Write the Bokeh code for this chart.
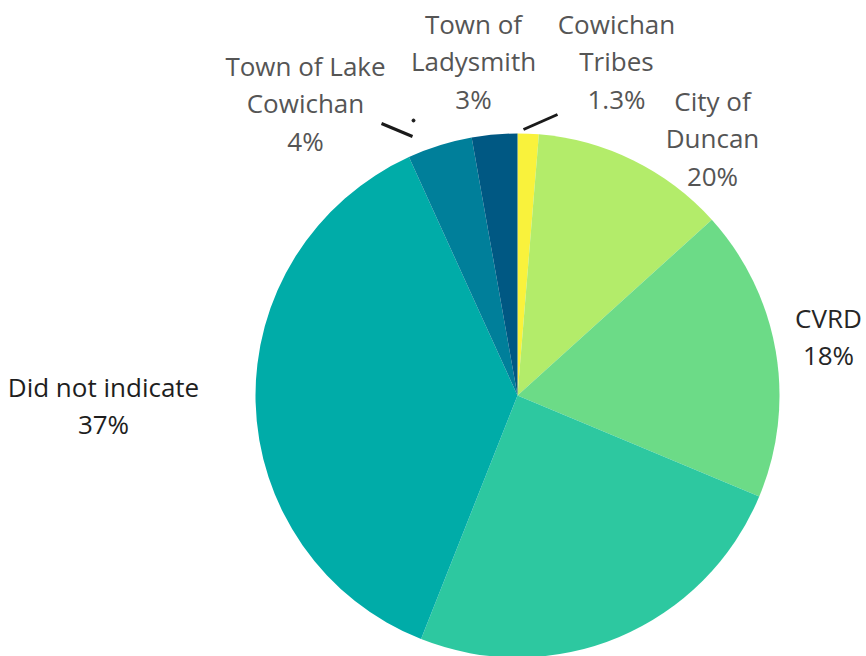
import math
from bokeh.plotting import figure
from bokeh.models import Range1d, ColumnDataSource
from bokeh.core.properties import value
from bokeh.embed import file_html
from bokeh.resources import INLINE

# ---- data (clockwise from 12 o'clock) ----
categories = ["Cowichan Tribes", "City of Duncan", "CVRD", "Municipality of North Cowichan",
              "Did not indicate", "Town of Lake Cowichan", "Town of Ladysmith"]
shares = [1.3, 12.0, 18.0, 24.7, 37.2, 4.0, 2.8]
label_texts = ["Cowichan\nTribes\n1.3%", "City of\nDuncan\n20%", "CVRD\n18%", "",
               "Did not indicate\n37%", "Town of Lake\nCowichan\n4%", "Town of\nLadysmith\n3%"]
colors = ["#f9f23c", "#b3ec6a", "#6cdb87", "#2dc8a0", "#00aca8", "#007f9a", "#005883"]

# ---- layout (screen pixels; y measured from top of window) ----
W, H = 866, 656
CX, CY, R = 517, 395, 262
label_pos = {  # centre x, first line y
    "Cowichan Tribes": (616, 23),
    "City of Duncan": (712, 100),
    "CVRD": (828, 317),
    "Did not indicate": (103, 386),
    "Town of Lake Cowichan": (305, 65),
    "Town of Ladysmith": (473, 23),
}
label_color = {"CVRD": "#262626", "Did not indicate": "#1e1e1e"}
LINE_STEP = 37.5
leaders = [((523, 129), (557, 114)), ((381, 123), (412, 136))]
dots = [(413, 120)]

def Y(sy):
    return H - sy

total = sum(shares)
starts, ends = [], []
cum = 0.0
for s in shares:
    a0 = math.pi / 2 - 2 * math.pi * cum / total
    cum += s
    a1 = math.pi / 2 - 2 * math.pi * cum / total
    starts.append(a1)
    ends.append(a0)

p = figure(width=W, height=H, x_range=Range1d(0, W), y_range=Range1d(0, H),
           output_backend="svg", toolbar_location=None, min_border=0)
p.axis.visible = False
p.grid.visible = False
p.outline_line_color = None
p.background_fill_color = "white"
p.border_fill_color = "white"

src = ColumnDataSource(dict(x=[CX] * len(shares), y=[Y(CY)] * len(shares),
                            start=starts, end=ends, color=colors, cat=categories))
p.wedge(x="x", y="y", radius=R, start_angle="start", end_angle="end",
        fill_color="color", line_color=None, source=src)

for (a, b) in leaders:
    p.line([a[0], b[0]], [Y(a[1]), Y(b[1])], line_color="#1a1a1a", line_width=3)
for d in dots:
    p.scatter([d[0]], [Y(d[1])], size=3, color="#1a1a1a", marker="circle")

tx, ty, tt, tc = [], [], [], []
for cat, lab in zip(categories, label_texts):
    if not lab or cat not in label_pos:
        continue
    x0, y0 = label_pos[cat]
    for i, line in enumerate(lab.split("\n")):
        tx.append(x0)
        ty.append(Y(y0 + i * LINE_STEP))
        tt.append(line)
        tc.append(label_color.get(cat, "#555555"))

p.text(x=tx, y=ty, text=tt, text_color=tc, text_align="center", text_baseline="middle",
       text_font=value("Open Sans"), text_font_size="26px")

open("out.html", "w").write(file_html(p, INLINE))
